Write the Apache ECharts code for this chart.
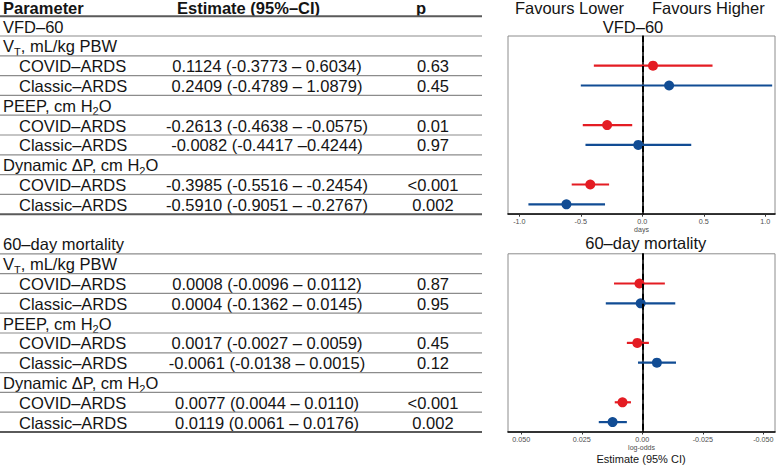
<!DOCTYPE html>
<html><head><meta charset="utf-8">
<script src="https://cdn.jsdelivr.net/npm/echarts@6/dist/echarts.min.js"></script>
<style>html,body{margin:0;padding:0;background:#fff}#c{width:777px;height:466px}</style>
</head><body><div id="c"></div>
<script>
// ---- table text ----
const headerLabels = ['Parameter', 'Estimate (95%–CI)', 'p'];
const vfdRowLabels = ['VFD–60', 'V{s|T}, mL/kg PBW', 'COVID–ARDS', 'Classic–ARDS', 'PEEP, cm H{s|2}O', 'COVID–ARDS', 'Classic–ARDS', 'Dynamic ΔP, cm H{s|2}O', 'COVID–ARDS', 'Classic–ARDS'];
const vfdEstimateText = ['', '', '0.1124 (-0.3773 – 0.6034)', '0.2409 (-0.4789 – 1.0879)', '', '-0.2613 (-0.4638 – -0.0575)', '-0.0082 (-0.4417 –0.4244)', '', '-0.3985 (-0.5516 – -0.2454)', '-0.5910 (-0.9051 – -0.2767)'];
const vfdPText = ['', '', '0.63', '0.45', '', '0.01', '0.97', '', '<0.001', '0.002'];
const mortRowLabels = ['60–day mortality', 'V{s|T}, mL/kg PBW', 'COVID–ARDS', 'Classic–ARDS', 'PEEP, cm H{s|2}O', 'COVID–ARDS', 'Classic–ARDS', 'Dynamic ΔP, cm H{s|2}O', 'COVID–ARDS', 'Classic–ARDS'];
const mortEstimateText = ['', '', '0.0008 (-0.0096 – 0.0112)', '0.0004 (-0.1362 – 0.0145)', '', '0.0017 (-0.0027 – 0.0059)', '-0.0061 (-0.0138 – 0.0015)', '', '0.0077 (0.0044 – 0.0110)', '0.0119 (0.0061 – 0.0176)'];
const mortPText = ['', '', '0.87', '0.95', '', '0.45', '0.12', '', '<0.001', '0.002'];

// ---- forest plot data ----
const plotCategories = ['VT', 'VT COVID–ARDS', 'VT Classic–ARDS', 'PEEP', 'PEEP COVID–ARDS', 'PEEP Classic–ARDS', 'ΔP', 'ΔP COVID–ARDS', 'ΔP Classic–ARDS'];
const covidRows = ['VT COVID–ARDS', 'PEEP COVID–ARDS', 'ΔP COVID–ARDS'];
const classicRows = ['VT Classic–ARDS', 'PEEP Classic–ARDS', 'ΔP Classic–ARDS'];
const vfdCovidEst = [0.087, -0.286, -0.423];
const vfdCovidLow = [-0.394, -0.484, -0.574];
const vfdCovidHigh = [0.571, -0.082, -0.27];
const vfdClassicEst = [0.218, -0.033, -0.617];
const vfdClassicLow = [-0.50, -0.462, -0.926];
const vfdClassicHigh = [1.056, 0.398, -0.303];
const mortCovidEst = [0.0012, 0.0021, 0.0082];
const mortCovidLow = [-0.0093, -0.0027, 0.0047];
const mortCovidHigh = [0.0117, 0.0064, 0.0114];
const mortClassicEst = [0.0007, -0.0060, 0.0123];
const mortClassicLow = [-0.0136, -0.0139, 0.0064];
const mortClassicHigh = [0.0151, 0.0018, 0.0180];
const vfdTickValues = [-1, -0.5, 0, 0.5, 1];
const vfdTickLabels = ['-1.0', '-0.5', '0.0', '0.5', '1.0'];
const mortTickValues = [0.05, 0.025, 0, -0.025, -0.05];
const mortTickLabels = ['0.050', '0.025', '0.00', '-0.025', '-0.050'];

// ---- styling ----
const FONT = '"Liberation Sans", Arial, Helvetica, sans-serif';
const RED = '#E41C23';
const BLUE = '#114C94';
const TXT = '#141414';
const y0 = 16.2, rowH = 19.8;
const tableRight = 482;

function txt(x, y, text, align, bold, size) {
  return {
    type: 'text', x: x, y: y, silent: true,
    style: {
      text: text, fontFamily: FONT, fontSize: size || 16.5, fontWeight: bold ? 'bold' : 'normal',
      fill: TXT, align: align || 'left', verticalAlign: 'middle', lineHeight: 22,
      rich: { s: { fontFamily: FONT, fontSize: 11, fill: TXT, verticalAlign: 'bottom', lineHeight: 12 } }
    }
  };
}
function hline(y, thick) {
  return { type: 'line', silent: true, shape: { x1: 0, y1: y, x2: tableRight, y2: y },
    style: { stroke: thick ? '#5a5a5a' : '#8c8c8c', lineWidth: thick ? 2 : 1.2 } };
}

const graphics = [];
graphics.push(txt(3, 8, headerLabels[0], 'left', true));
graphics.push(txt(177, 8, headerLabels[1], 'left', true));
graphics.push(txt(421, 8, headerLabels[2], 'center', true));
graphics.push(hline(y0, true));

function addSection(labels, ests, ps, startRow, lastThick) {
  labels.forEach(function (lab, i) {
    const r = startRow + i;
    const cy = y0 + rowH * (r + 0.5) + 0.5;
    const indent = ests[i] !== '' ? 19 : 3;
    graphics.push(txt(indent, cy, lab, 'left'));
    if (ests[i]) graphics.push(txt(267, cy, ests[i], 'center'));
    if (ps[i]) graphics.push(txt(433, cy, ps[i], 'center'));
    graphics.push(hline(y0 + rowH * (r + 1), i === labels.length - 1 && lastThick));
  });
}
addSection(vfdRowLabels, vfdEstimateText, vfdPText, 0, true);
addSection(mortRowLabels, mortEstimateText, mortPText, 11, true);

graphics.push(txt(569.5, 7.5, 'Favours Lower', 'center'));
graphics.push(txt(708.3, 7.5, 'Favours Higher', 'center'));
graphics.push(txt(633, 27, 'VFD–60', 'center'));
graphics.push(txt(645.8, 243, '60–day mortality', 'center'));
graphics.push(txt(641, 459.3, 'Estimate (95% CI)', 'center', false, 11));

const gridTop1 = y0 + rowH;
const gridTop2 = y0 + rowH * 12;
const gridH = rowH * 9;

function ciSeries(idx, lows, highs, rows, color) {
  return {
    type: 'custom', xAxisIndex: idx, yAxisIndex: idx, z: 3,
    data: rows.map(function (r, i) { return [lows[i], highs[i], r]; }),
    encode: { x: [0, 1], y: 2 },
    renderItem: function (params, api) {
      const yv = api.value(2);
      const a = api.coord([api.value(0), yv]);
      const b = api.coord([api.value(1), yv]);
      return { type: 'line', shape: { x1: a[0], y1: a[1], x2: b[0], y2: b[1] },
        style: { stroke: color, lineWidth: 2.2 } };
    }
  };
}
function ptSeries(idx, ests, rows, color) {
  return {
    type: 'scatter', xAxisIndex: idx, yAxisIndex: idx, z: 4,
    symbol: 'circle', symbolSize: 10, itemStyle: { color: color, opacity: 1 },
    data: rows.map(function (r, i) { return [ests[i], r]; })
  };
}
function zeroLine(idx) {
  return {
    type: 'scatter', xAxisIndex: idx, yAxisIndex: idx, z: 10, data: [],
    markLine: { silent: true, symbol: ['none', 'none'], label: { show: false },
      lineStyle: { color: '#000', width: 2, type: [6, 4] }, data: [{ xAxis: 0 }] }
  };
}
function xAx(idx, min, max, vals, labs, inverse, name) {
  return {
    type: 'value', gridIndex: idx, min: min, max: max, inverse: inverse,
    splitLine: { show: false },
    axisLine: { show: true, onZero: false, lineStyle: { color: '#000', width: 1.6 } },
    axisTick: { show: true, length: 2.5, customValues: vals, lineStyle: { color: '#333', width: 1 } },
    axisLabel: { customValues: vals, fontSize: 7.2, fontFamily: FONT, color: '#4d4d4d', margin: 4,
      formatter: function (v) { const k = vals.findIndex(function (t) { return Math.abs(t - v) < 1e-9; }); return k >= 0 ? labs[k] : ''; } },
    name: name, nameLocation: 'middle', nameGap: 12,
    nameTextStyle: { fontSize: 7, fontFamily: FONT, color: '#4d4d4d', verticalAlign: 'top' }
  };
}
function yAx(idx) {
  return {
    type: 'category', gridIndex: idx, data: plotCategories, inverse: true, boundaryGap: true,
    axisLine: { show: true, lineStyle: { color: '#000', width: 1.6 } },
    axisTick: { show: false }, axisLabel: { show: false }, splitLine: { show: false }
  };
}

const option = {
  animation: false,
  backgroundColor: '#fff',
  grid: [
    { left: 508, right: 2, top: gridTop1, height: gridH, show: true, borderColor: '#8c8c8c', borderWidth: 1, backgroundColor: 'transparent' },
    { left: 508, right: 2, top: gridTop2, height: gridH, show: true, borderColor: '#8c8c8c', borderWidth: 1, backgroundColor: 'transparent' }
  ],
  xAxis: [
    xAx(0, -1.092, 1.079, vfdTickValues, vfdTickLabels, false, 'days'),
    xAx(1, -0.0548, 0.0555, mortTickValues, mortTickLabels, true, 'log-odds')
  ],
  yAxis: [yAx(0), yAx(1)],
  series: [
    ciSeries(0, vfdCovidLow, vfdCovidHigh, covidRows, RED),
    ciSeries(0, vfdClassicLow, vfdClassicHigh, classicRows, BLUE),
    ptSeries(0, vfdCovidEst, covidRows, RED),
    ptSeries(0, vfdClassicEst, classicRows, BLUE),
    zeroLine(0),
    ciSeries(1, mortCovidLow, mortCovidHigh, covidRows, RED),
    ciSeries(1, mortClassicLow, mortClassicHigh, classicRows, BLUE),
    ptSeries(1, mortCovidEst, covidRows, RED),
    ptSeries(1, mortClassicEst, classicRows, BLUE),
    zeroLine(1)
  ],
  graphic: graphics
};
const chart = echarts.init(document.getElementById('c'), null, { renderer: 'svg' });
chart.setOption(option);
</script></body></html>
